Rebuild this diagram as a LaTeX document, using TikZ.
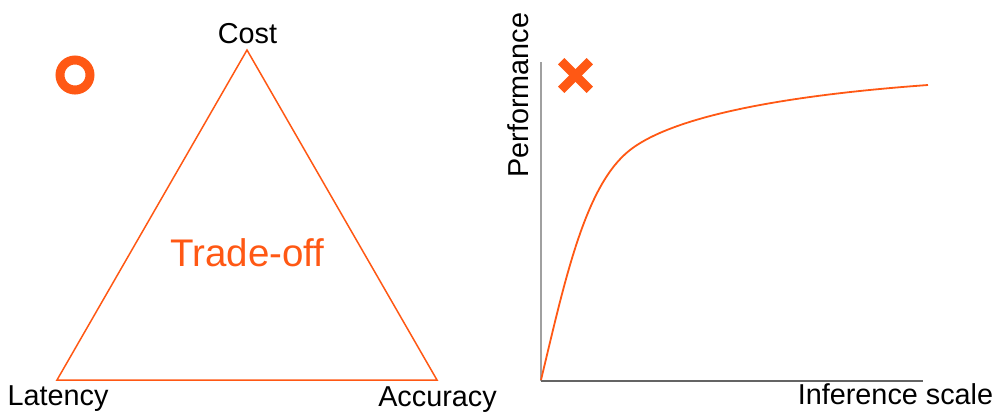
\documentclass[tikz,border=0pt]{standalone}
\usepackage{fontspec}
\setmainfont{Liberation Sans}
\usetikzlibrary{calc}
\definecolor{org}{RGB}{255,88,20}
\definecolor{axg}{RGB}{160,160,160}
\definecolor{axd}{RGB}{100,100,100}
\begin{document}
\begin{tikzpicture}[x=1pt,y=-1pt,
  lbl/.style={font=\fontsize{28.8}{34}\selectfont, text=black, inner sep=0pt, anchor=base},
  thin orange/.style={draw=org, line width=1.5pt}]
\useasboundingbox (0,0) rectangle (1002,416);
% triangle
\coordinate (top) at (247,50);
\coordinate (bl) at (57,380);
\coordinate (br) at (437,380);
\draw[thin orange, line join=miter] (top) -- (bl) -- (br) -- cycle;
\node[lbl] (cost) at (247.5,43) {Cost};
\node[lbl] (lat) at (58,405) {Latency};
\node[lbl] (acc) at (437.5,406) {Accuracy};
\node[lbl, text=org, font=\fontsize{38.5}{44}\selectfont] (trade) at (247.5,266) {Trade-off};
% ring
\node[circle, draw=org, line width=9pt, minimum size=30pt, inner sep=0pt] (ring) at (75,75) {};
% axes
\coordinate (o) at (541,381);
\coordinate (ytop) at (541,62);
\coordinate (xend) at (923,381);
\draw[axg, line width=2pt] (o) -- (ytop);
\draw[axd, line width=1.8pt] (o) -- (xend);
\node[lbl, rotate=90] (perf) at (528,95) {Performance};
\node[lbl] (inf) at (895.5,404) {Inference scale};
% cross
\coordinate (xc) at (575.5,75.5);
\draw[org, line width=9pt] ($(xc)+(-14.3,-14.3)$) -- ($(xc)+(14.3,14.3)$);
\draw[org, line width=9pt] ($(xc)+(-14.3,14.3)$) -- ($(xc)+(14.3,-14.3)$);
% curve
\coordinate (c0) at (541,380);
\coordinate (c1) at (630,150);
\coordinate (c2) at (928,85);
\draw[org, line width=1.8pt] (c0) .. controls (565,280) and (585,185) .. (c1)
  .. controls (675,115) and (790,95) .. (c2);
\end{tikzpicture}
\end{document}
